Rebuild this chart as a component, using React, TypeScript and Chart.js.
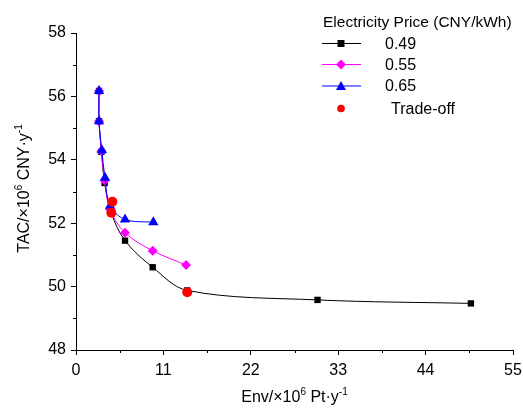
import React, { useEffect, useRef } from "react";
import { Chart, registerables } from "chart.js";

Chart.register(...registerables);

const seriesLabels = ["0.49", "0.55", "0.65", "Trade-off"];
const legendTitle = "Electricity Price (CNY/kWh)";
const xTitle = [["Env/×10", false], ["6", true], [" Pt·y", false], ["-1", true]];
const yTitle = [["TAC/×10", false], ["6", true], [" CNY·y", false], ["-1", true]];

const xTicks = [0, 11, 22, 33, 44, 55];
const yTicks = [48, 50, 52, 54, 56, 58];

const env049 = [2.9, 2.9, 3.2, 3.6, 4.45, 6.17, 9.65, 14.0, 30.4, 49.7];
const tac049 = [56.17, 55.22, 54.25, 53.27, 52.32, 51.45, 50.61, 49.88, 49.58, 49.47];
const env055 = [2.9, 2.9, 3.2, 3.6, 4.28, 6.17, 9.65, 13.85];
const tac055 = [56.17, 55.22, 54.28, 53.35, 52.44, 51.7, 51.13, 50.68];
const env065 = [2.9, 2.9, 3.25, 3.65, 4.3, 6.17, 9.73];
const tac065 = [56.17, 55.22, 54.3, 53.43, 52.55, 52.12, 52.03];
const envTrade = [4.57, 4.45, 14.0];
const tacTrade = [52.68, 52.33, 49.82];

const FONT = "Arial, 'Liberation Sans', sans-serif";

const pts = (xs: number[], ys: number[]) => xs.map((x, i) => ({ x, y: ys[i] }));

function drawRich(ctx: CanvasRenderingContext2D, parts: any[], size: number) {
  const sup = Math.round(size * 0.62);
  let total = 0;
  const widths = parts.map(([t, s]) => {
    ctx.font = `${s ? sup : size}px ${FONT}`;
    const w = ctx.measureText(t).width;
    total += w;
    return w;
  });
  let x = -total / 2;
  parts.forEach(([t, s], i) => {
    ctx.font = `${s ? sup : size}px ${FONT}`;
    ctx.fillText(t, x, s ? -size * 0.42 : 0);
    x += widths[i];
  });
}

const decor = {
  id: "decor",
  afterDraw(chart: any) {
    const ctx = chart.ctx as CanvasRenderingContext2D;
    const { left, right, top, bottom } = chart.chartArea;
    const xs = chart.scales.x;
    const ys = chart.scales.y;
    ctx.save();
    ctx.strokeStyle = "#000";
    ctx.lineWidth = 1;
    // minor ticks
    for (let i = 0; i < xTicks.length - 1; i++) {
      const v = (xTicks[i] + xTicks[i + 1]) / 2;
      const px = Math.round(xs.getPixelForValue(v)) + 0.5;
      ctx.beginPath();
      ctx.moveTo(px, bottom);
      ctx.lineTo(px, bottom + 3);
      ctx.stroke();
    }
    for (let i = 0; i < yTicks.length - 1; i++) {
      const v = (yTicks[i] + yTicks[i + 1]) / 2;
      const py = Math.round(ys.getPixelForValue(v)) + 0.5;
      ctx.beginPath();
      ctx.moveTo(left, py);
      ctx.lineTo(left - 3, py);
      ctx.stroke();
    }
    // axis titles
    ctx.fillStyle = "#000";
    ctx.textBaseline = "alphabetic";
    ctx.textAlign = "left";
    ctx.save();
    ctx.translate((left + right) / 2, 402);
    drawRich(ctx, xTitle, 16);
    ctx.restore();
    ctx.save();
    ctx.translate(29, (top + bottom) / 2 - 3);
    ctx.rotate(-Math.PI / 2);
    drawRich(ctx, yTitle, 16);
    ctx.restore();

    // legend
    ctx.font = `15.5px ${FONT}`;
    ctx.textAlign = "left";
    ctx.fillText(legendTitle, 323, 27);
    const rows = [43.5, 64.5, 86, 108.5];
    const colors = ["#000000", "#ff00ff", "#0000ff", "#ff0000"];
    const lx0 = 322, lx1 = 361, mx = 341;
    ctx.font = `16px ${FONT}`;
    ctx.textBaseline = "middle";
    rows.forEach((ry, i) => {
      const c = colors[i];
      if (i < 3) {
        ctx.strokeStyle = c;
        ctx.lineWidth = 1;
        ctx.beginPath();
        ctx.moveTo(lx0, ry);
        ctx.lineTo(lx1, ry);
        ctx.stroke();
      }
      ctx.fillStyle = c;
      ctx.beginPath();
      if (i === 0) {
        ctx.rect(mx - 3.5, ry - 3.5, 7, 7);
      } else if (i === 1) {
        ctx.moveTo(mx, ry - 5);
        ctx.lineTo(mx + 5, ry);
        ctx.lineTo(mx, ry + 5);
        ctx.lineTo(mx - 5, ry);
        ctx.closePath();
      } else if (i === 2) {
        ctx.moveTo(mx, ry - 5);
        ctx.lineTo(mx + 5, ry + 4);
        ctx.lineTo(mx - 5, ry + 4);
        ctx.closePath();
      } else {
        ctx.arc(mx, ry, 3.8, 0, Math.PI * 2);
      }
      ctx.fill();
      ctx.fillStyle = "#000";
      ctx.fillText(seriesLabels[i], i === 3 ? 391 : 385, ry + 1);
    });
    ctx.restore();
  },
};

export default function App() {
  const ref = useRef<HTMLCanvasElement>(null);
  useEffect(() => {
    document.body.style.margin = "0";
    const chart = new Chart(ref.current!, {
      type: "scatter",
      data: {
        datasets: [
          {
            label: seriesLabels[0],
            data: pts(env049, tac049),
            showLine: true,
            tension: 0.35,
            borderColor: "#000000",
            backgroundColor: "#000000",
            borderWidth: 1,
            pointStyle: "rect",
            pointRadius: 4.5,
            pointBorderWidth: 0,
            order: 4,
          },
          {
            label: seriesLabels[1],
            data: pts(env055, tac055),
            showLine: true,
            tension: 0.35,
            borderColor: "#ff00ff",
            backgroundColor: "#ff00ff",
            borderWidth: 1,
            pointStyle: "rectRot",
            pointRadius: 5,
            pointBorderWidth: 0,
            order: 3,
          },
          {
            label: seriesLabels[2],
            data: pts(env065, tac065),
            showLine: true,
            tension: 0.35,
            borderColor: "#0000ff",
            backgroundColor: "#0000ff",
            borderWidth: 1,
            pointStyle: "triangle",
            pointRadius: 6,
            pointBorderWidth: 0,
            order: 2,
          },
          {
            label: seriesLabels[3],
            data: pts(envTrade, tacTrade),
            showLine: false,
            borderColor: "#ff0000",
            backgroundColor: "#ff0000",
            pointStyle: "circle",
            pointRadius: 5,
            pointBorderWidth: 0,
            order: 1,
          },
        ],
      },
      options: {
        responsive: false,
        animation: false,
        layout: { padding: { top: 33, right: 10, left: 0, bottom: 0 } },
        plugins: { legend: { display: false }, tooltip: { enabled: false } },
        scales: {
          x: {
            type: "linear",
            min: 0,
            max: 55,
            afterBuildTicks: (s: any) => {
              s.ticks = xTicks.map((v) => ({ value: v }));
            },
            afterFit: (s: any) => {
              s.height = 58;
              s.paddingLeft = 0;
              s.paddingRight = 0;
            },
            ticks: {
              color: "#000",
              font: { family: FONT, size: 16 },
              padding: 6,
              maxRotation: 0,
            },
            grid: {
              drawOnChartArea: false,
              drawTicks: true,
              tickLength: 5,
              color: "#000",
            },
            border: { display: true, color: "#000", width: 1 },
          },
          y: {
            type: "linear",
            min: 48,
            max: 58,
            afterBuildTicks: (s: any) => {
              s.ticks = yTicks.map((v) => ({ value: v }));
            },
            afterFit: (s: any) => {
              s.width = 76;
              s.paddingTop = 0;
              s.paddingBottom = 0;
            },
            ticks: {
              color: "#000",
              font: { family: FONT, size: 16 },
              padding: 5,
            },
            grid: {
              drawOnChartArea: false,
              drawTicks: true,
              tickLength: 5,
              color: "#000",
            },
            border: { display: true, color: "#000", width: 1 },
          },
        },
      },
      plugins: [decor],
    } as any);
    return () => chart.destroy();
  }, []);
  return <canvas ref={ref} width={523} height={408} style={{ display: "block" }} />;
}
